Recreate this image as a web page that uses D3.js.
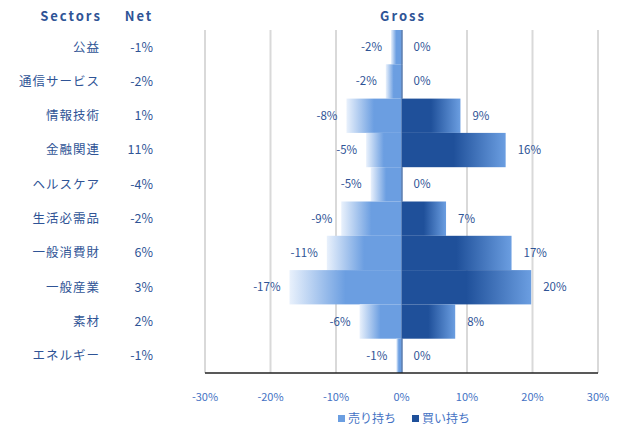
<!DOCTYPE html>
<html>
<head>
<meta charset="utf-8">
<script src="https://cdn.jsdelivr.net/npm/d3@7"></script>
<style>
  body { margin: 0; background: #fff; }
  text { font-family: "Noto Sans CJK JP", "Liberation Sans", sans-serif; }
</style>
</head>
<body>
<svg width="624" height="430"></svg>
<script>
// data
var sectors = ["公益", "通信サービス", "情報技術", "金融関連", "ヘルスケア", "生活必需品", "一般消費財", "一般産業", "素材", "エネルギー"];
var net = [-1, -2, 1, 11, -4, -2, 6, 3, 2, -1];
var sell = [-1.6, -2.4, -8.4, -5.4, -4.7, -9.2, -11.4, -17.1, -6.4, -0.8];
var buy = [0, 0, 9.0, 15.9, 0, 6.8, 16.8, 19.8, 8.2, 0];
var ticks = [-30, -20, -10, 0, 10, 20, 30];

var svg = d3.select("svg");
var textColor = "#2f5496";
var tickColor = "#4472c4";

var x = d3.scaleLinear().domain([-30, 30]).range([205, 598]);
var y = d3.scaleBand().domain(sectors).range([30, 373]).padding(0);

// plain hyphen, as in the picture
var pct = v => Math.round(v) + "%";

// gradients
var defs = svg.append("defs");
var gSell = defs.append("linearGradient").attr("id", "gSell");
gSell.append("stop").attr("offset", "0%").attr("stop-color", "#e9f1fc");
gSell.append("stop").attr("offset", "50%").attr("stop-color", "#6b9ee1");
gSell.append("stop").attr("offset", "100%").attr("stop-color", "#6b9ee1");
var gBuy = defs.append("linearGradient").attr("id", "gBuy");
gBuy.append("stop").attr("offset", "0%").attr("stop-color", "#1f509a");
gBuy.append("stop").attr("offset", "50%").attr("stop-color", "#1f509a");
gBuy.append("stop").attr("offset", "100%").attr("stop-color", "#6b9ee1");

// gridlines
svg.append("g")
    .selectAll("line")
    .data(ticks)
    .enter()
    .append("line")
    .attr("x1", d => x(d))
    .attr("x2", d => x(d))
    .attr("y1", 30)
    .attr("y2", 373)
    .attr("stroke", "#d9d9d9")
    .attr("stroke-width", 2);

// sell bars
svg.append("g")
    .selectAll("rect")
    .data(sectors)
    .enter()
    .append("rect")
    .attr("x", (d, i) => x(sell[i]))
    .attr("y", d => y(d))
    .attr("width", (d, i) => x(0) - x(sell[i]))
    .attr("height", y.bandwidth())
    .attr("fill", "url(#gSell)");

// buy bars
svg.append("g")
    .selectAll("rect")
    .data(sectors)
    .enter()
    .append("rect")
    .attr("x", x(0))
    .attr("y", d => y(d))
    .attr("width", (d, i) => Math.max(1, x(buy[i]) - x(0)))
    .attr("height", y.bandwidth())
    .attr("fill", (d, i) => buy[i] > 0 ? "url(#gBuy)" : "#1f509a");

// axis line
svg.append("line")
    .attr("x1", x(-30)).attr("x2", x(30))
    .attr("y1", 373).attr("y2", 373)
    .attr("stroke", "#222").attr("stroke-width", 1.5);

// bar labels
svg.append("g")
    .selectAll("text")
    .data(sectors)
    .enter()
    .append("text")
    .attr("x", (d, i) => x(sell[i]) - 9)
    .attr("y", d => y(d) + y.bandwidth() / 2)
    .attr("dy", "0.35em")
    .attr("text-anchor", "end")
    .attr("font-size", 11.5)
    .attr("fill", textColor)
    .text((d, i) => pct(sell[i]));

svg.append("g")
    .selectAll("text")
    .data(sectors)
    .enter()
    .append("text")
    .attr("x", (d, i) => x(buy[i]) + 12)
    .attr("y", d => y(d) + y.bandwidth() / 2)
    .attr("dy", "0.35em")
    .attr("text-anchor", "start")
    .attr("font-size", 11.5)
    .attr("fill", textColor)
    .text((d, i) => pct(buy[i]));

// category and net labels
svg.append("g")
    .selectAll("text")
    .data(sectors)
    .enter()
    .append("text")
    .attr("x", 100)
    .attr("y", d => y(d) + y.bandwidth() / 2)
    .attr("dy", "0.35em")
    .attr("text-anchor", "end")
    .attr("font-size", 12.5)
    .attr("letter-spacing", 1)
    .attr("fill", textColor)
    .text(d => d);

svg.append("g")
    .selectAll("text")
    .data(sectors)
    .enter()
    .append("text")
    .attr("x", 153)
    .attr("y", d => y(d) + y.bandwidth() / 2)
    .attr("dy", "0.35em")
    .attr("text-anchor", "end")
    .attr("font-size", 12.5)
    .attr("fill", textColor)
    .text((d, i) => net[i] + "%");

// headers
var headers = [["Sectors", 71], ["Net", 139], ["Gross", 403]];
svg.append("g")
    .selectAll("text")
    .data(headers)
    .enter()
    .append("text")
    .attr("x", d => d[1])
    .attr("y", 16)
    .attr("dy", "0.35em")
    .attr("text-anchor", "middle")
    .attr("font-size", 13)
    .attr("font-weight", "bold")
    .attr("letter-spacing", 2)
    .attr("fill", textColor)
    .text(d => d[0]);

// tick labels
svg.append("g")
    .selectAll("text")
    .data(ticks)
    .enter()
    .append("text")
    .attr("x", d => x(d))
    .attr("y", 397)
    .attr("dy", "0.35em")
    .attr("text-anchor", "middle")
    .attr("font-size", 11)
    .attr("fill", tickColor)
    .text(d => d + "%");

// legend
var legend = [["売り持ち", "#6b9ee1", 338], ["買い持ち", "#1f509a", 412]];
var lg = svg.append("g")
    .selectAll("g")
    .data(legend)
    .enter()
    .append("g")
    .attr("transform", d => `translate(${d[2]},419)`);
lg.append("rect")
    .attr("x", 0).attr("y", -4)
    .attr("width", 7).attr("height", 7)
    .attr("fill", d => d[1]);
lg.append("text")
    .attr("x", 10)
    .attr("dy", "0.35em")
    .attr("font-size", 12)
    .attr("fill", tickColor)
    .text(d => d[0]);
</script>
</body>
</html>
